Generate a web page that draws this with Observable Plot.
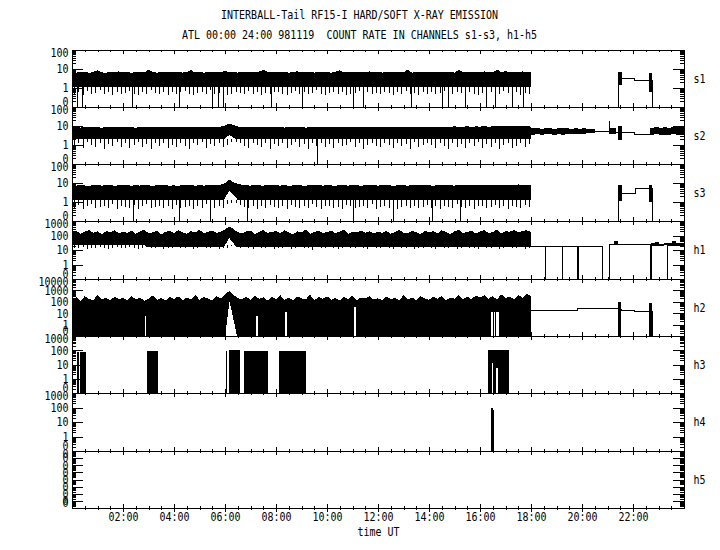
<!DOCTYPE html>
<html><head><meta charset="utf-8">
<script src="https://cdn.jsdelivr.net/npm/d3@7"></script>
<script src="https://cdn.jsdelivr.net/npm/@observablehq/plot@0.6"></script>
<style>
body{margin:0;background:#fff;}
#chart{position:relative;width:720px;height:550px;background:#fff;font-family:"DejaVu Sans Mono",monospace;overflow:hidden;}
.ttl{position:absolute;left:0;width:719px;text-align:center;font-size:10px;line-height:12px;color:#000;transform:scaleY(1.2);white-space:pre;}
.panel{position:absolute;left:0;}
</style></head><body><div id="chart"></div>
<script>
// ---------------- data ----------------
const TITLE = "INTERBALL-Tail RF15-I HARD/SOFT X-RAY EMISSION";
const SUBTITLE = "ATL 00:00 24:00 981119  COUNT RATE IN CHANNELS s1-s3, h1-h5";
const X_LABEL = "time UT";
const channels = ["s1","s2","s3","h1","h2","h3","h4","h5"];
const yMin = [0.1,0.1,0.1,0.1,0.1,0.1,0.1,1e-8];
const yMax = [100,100,100,1000,10000,1000,1000,1];
const sTickLabels = ["0","1","10","100"];
const h1TickLabels = ["0","1","10","100","1000"];
const h2TickLabels = ["0","1","10","100","1000","10000"];
const h3TickLabels = ["0","1","10","100","1000"];
const h4TickLabels = ["0","1","10","100","1000"];
const h5TickLabels = ["0","0","0","0","0","0","0","0","0"];
const xTickHours = [2,4,6,8,10,12,14,16,18,20,22];
const xTickLabels = ["02:00","04:00","06:00","08:00","10:00","12:00","14:00","16:00","18:00","20:00","22:00"];
const STEP = 1/6; // 10-minute samples, 00:00 .. 18:00

// s1
const s1_hi = [7.2,6.5,6.8,7.4,6.3,6.9,8.8,6.6,6.4,7.1,6.8,7.5,
 6.6,7.0,6.3,7.3,6.9,6.5,9.2,6.8,6.4,7.2,6.7,7.0,
 6.9,7.4,6.5,6.8,8.6,6.6,7.1,6.4,6.9,7.3,6.7,7.0,
 7.6,7.2,6.8,6.5,7.0,7.4,6.6,6.9,7.2,9.0,7.1,6.8,
 6.7,7.3,6.9,6.4,7.0,7.5,6.6,6.8,7.2,6.5,6.9,7.4,
 6.8,6.4,7.1,8.7,6.7,6.9,7.3,6.5,7.0,6.8,7.4,6.6,
 7.0,6.5,6.9,7.3,6.6,7.1,6.8,9.1,6.4,6.9,7.2,6.7,
 6.9,7.4,6.6,7.0,6.8,7.2,6.5,8.9,6.9,6.7,7.1,7.3,
 6.8,7.5,7.0,6.6,9.3,6.9,7.7,6.7,7.2,6.8,7.4,7.0,7.1];
const s1_lo_t = [0,18];
const s1_lo_v = [1.15,1.15];
const s1_base = 1.15;
const s1_min = [0.5,0.6,0.45,0.7,0.5,0.55,0.8,0.5,0.6,0.45,0.65,0.5,
 0.55,0.7,0.5,0.45,0.6,0.5,0.75,0.55,0.5,0.65,0.45,0.6,
 0.5,0.6,0.7,0.5,0.45,0.55,0.6,0.5,0.8,0.5,0.55,0.6,
 0.45,0.5,0.65,0.55,0.5,0.7,0.5,0.6,0.45,0.55,0.5,0.65,
 0.6,0.5,0.45,0.55,0.7,0.5,0.6,0.5,0.55,0.75,0.5,0.45,
 0.55,0.6,0.5,0.65,0.45,0.5,0.55,0.7,0.5,0.6,0.5,0.55,
 0.5,0.65,0.55,0.45,0.6,0.5,0.7,0.5,0.55,0.45,0.6,0.5,
 0.6,0.5,0.55,0.7,0.45,0.5,0.6,0.55,0.5,0.65,0.5,0.45,
 0.55,0.5,0.6,0.45,0.5,0.7,0.55,0.5,0.6,0.45,0.55,0.5];
const s1_zero = [0.18,0.38,2.34,4.2,5.48,5.73,5.91,7.8,9.0,11.0,11.4,13.3,14.5,14.75,15.4,16.24,16.59,17.24,17.7];
const s1_tail_t = [18.0,21.4,22.04,22.73,24];
const s1_tail_v = [0,3.5,2.6,0,0];
const s1_bursts = [[21.4,21.57,1.4,7.0],[22.64,22.73,0.6,6.1]];

// s2
const s2_hi = [8.6,9.0,8.2,8.8,9.3,8.4,8.9,8.1,8.7,9.2,8.5,8.8,
 8.3,9.1,8.6,8.2,8.9,9.4,8.5,8.7,8.3,9.0,8.6,8.4,
 8.9,8.5,9.2,8.6,8.3,8.8,9.1,8.4,8.7,9.0,8.5,9.3,
 10.5,13.5,11.5,9.5,8.8,9.2,8.6,8.9,8.4,9.1,8.7,8.5,
 9.0,8.6,8.3,8.9,9.3,8.5,8.8,8.2,8.7,9.1,8.4,8.9,
 8.6,9.2,8.5,8.8,8.3,9.0,8.7,8.4,9.3,8.6,8.9,8.5,
 8.8,8.4,9.1,8.6,8.9,8.3,9.0,8.7,8.5,9.2,8.6,8.8,
 8.5,9.0,8.7,9.4,8.6,8.9,9.6,8.8,9.2,9.8,9.0,9.5,
 9.3,9.9,9.1,9.6,10.2,9.4,9.8,10.5,9.5,10.0,9.6,10.3,9.0];
const s2_lo_t = [0,5.95,6.17,6.45,18];
const s2_lo_v = [2.0,2.0,3.3,2.0,2.0];
const s2_base = 2.0;
const s2_min = [0.9,1.2,0.7,1.4,1.0,0.8,1.3,0.6,1.1,0.9,1.5,0.8,
 1.2,0.7,1.0,1.4,0.8,1.1,0.6,1.3,0.9,1.2,0.7,1.0,
 0.8,1.3,0.9,0.6,1.2,1.0,1.4,0.7,1.1,0.9,1.3,0.8,
 1.0,1.4,1.5,1.2,0.9,0.7,1.2,1.0,0.8,1.3,0.6,1.1,
 0.9,1.2,0.7,1.0,1.4,0.8,1.1,0.6,1.3,0.9,1.2,0.8,
 1.1,0.7,1.3,0.9,1.0,1.4,0.8,1.2,0.6,1.0,1.3,0.9,
 0.8,1.2,1.0,0.7,1.3,0.9,1.1,0.6,1.4,0.8,1.0,1.2,
 1.0,0.7,1.2,0.9,0.6,1.3,0.8,1.1,0.7,1.2,0.9,1.4,
 0.7,1.1,0.8,1.3,0.6,1.0,1.2,0.7,0.9,1.3,0.8,1.1];
const s2_zero = [9.6];
const s2_late1_start = 18.0;
const s2_late1_hi = [7.5,7.8,7.2,7.6,7.9,7.3,7.7,7.4,7.8,7.2,7.5,7.1,7.4,6.9,6.6];
const s2_late1_lo = [3.5,3.8,3.3,3.6,3.9,3.4,3.7,3.5,3.8,3.6,3.9,3.7,4.0,4.2,4.5];
const s2_late2_start = 22.67;
const s2_late2_hi = [8.0,8.4,7.9,8.6,8.2,8.8,8.5,9.2];
const s2_late2_lo = [3.3,3.6,3.2,3.5,3.4,3.7,3.5,3.8];
const s2_tail_t = [20.33,21.06,21.07,21.57,22.04,22.67];
const s2_tail_v = [5.5,18,5.0,4.9,4.0,4.0];
const s2_bursts = [[21.07,21.35,3.6,7.4],[21.4,21.57,1.8,9.5]];

// s3
const s3_hi = [7.6,7.2,7.9,7.4,7.0,7.7,8.0,7.3,7.5,7.8,7.1,7.6,
 7.4,7.9,7.2,7.6,7.3,8.1,7.5,7.0,7.7,7.4,7.8,7.2,
 7.5,7.1,7.8,7.4,7.9,7.2,7.6,7.3,7.7,8.0,7.4,8.2,
 10.0,15.5,11.0,9.0,8.0,7.6,7.3,7.8,7.5,7.2,7.9,7.4,
 7.6,7.3,7.8,7.1,7.5,7.9,7.4,7.2,7.7,7.5,8.0,7.3,
 7.7,7.4,7.2,7.8,7.5,7.3,7.9,7.6,7.1,7.7,7.4,7.8,
 7.3,7.6,7.9,7.4,7.2,7.8,7.5,7.3,7.7,7.4,8.0,7.6,
 7.5,7.2,7.8,7.4,7.9,7.6,7.3,7.7,8.1,7.5,7.8,7.4,
 7.9,7.5,8.2,7.6,7.8,8.3,7.7,8.0,7.6,8.4,7.8,8.1,7.9];
const s3_lo_t = [0,5.95,6.17,6.5,18];
const s3_lo_v = [1.3,1.3,4.0,1.3,1.3];
const s3_base = 1.3;
const s3_min = [0.5,0.7,0.45,0.6,0.8,0.5,0.55,0.65,0.5,0.75,0.45,0.6,
 0.55,0.5,0.7,0.45,0.6,0.8,0.5,0.55,0.65,0.5,0.6,0.45,
 0.7,0.5,0.55,0.6,0.45,0.65,0.5,0.75,0.55,0.5,0.6,0.5,
 0.8,0.9,0.9,0.7,0.55,0.5,0.65,0.45,0.6,0.5,0.7,0.55,
 0.5,0.6,0.45,0.7,0.55,0.5,0.65,0.5,0.8,0.55,0.45,0.6,
 0.65,0.5,0.55,0.45,0.7,0.6,0.5,0.55,0.65,0.5,0.75,0.45,
 0.55,0.6,0.5,0.7,0.45,0.55,0.6,0.5,0.65,0.5,0.55,0.7,
 0.5,0.65,0.45,0.6,0.55,0.5,0.75,0.55,0.5,0.6,0.45,0.65,
 0.6,0.5,0.55,0.7,0.5,0.65,0.45,0.6,0.55,0.5,0.7,0.55];
const s3_zero = [2.4,4.2,5.41,6.85,11.03,12.6,14.1,15.2];
const s3_tail_t = [18.0,21.4,22.06,22.73,24];
const s3_tail_v = [0,2.9,5.3,0,0];
const s3_bursts = [[21.4,21.57,1.1,7.7],[22.64,22.73,1.0,8.0]];

// h1
const h1_hi = [160,210,130,180,240,150,190,120,200,170,230,140,
 180,150,220,130,190,260,140,170,210,120,180,200,
 150,230,170,130,200,160,250,140,180,210,150,190,
 260,420,280,170,140,190,220,130,170,240,150,180,
 200,140,230,160,120,190,170,250,130,180,210,150,
 170,220,140,190,260,130,180,160,230,150,200,140,
 190,150,210,130,180,240,160,140,200,170,120,220,
 160,200,140,230,170,130,190,250,150,180,210,140,
 190,230,150,170,260,140,200,180,240,160,210,230,170];
const h1_lo_t = [0,2.85,2.9,5.95,6.17,6.45,18];
const h1_lo_v = [22,22,16,16,65,16,16];
const h1_base = 22;
const h1_min = [14,13,15,12,14,13,15,14,12,13,15,14,
 13,15,14,12,14,15,13,14,15,12,14,13,
 15,14,13,15,12,14,15,13,14,15,12,14,
 14,20,22,13,15,14,12,15,13,14,15,12,
 14,13,15,12,14,15,13,14,10,15,14,13,
 15,14,12,13,15,14,13,15,14,12,15,14,
 13,15,14,12,15,13,14,15,12,14,13,15,
 14,12,15,13,14,15,12,14,15,13,14,12,
 15,14,13,15,12,14,15,13,14,15,12,14];
const h1_tail_t = [18.0,18.55,18.56,19.2,19.21,19.82,19.83,20.77,21.07,21.6,22.68,22.7];
const h1_tail_v = [19,0,18,0,18.5,0,19,0,24,25.6,0,25];
const h1_late1_start = 21.07;
const h1_late1_hi = [27,40,26];
const h1_late1_lo = [21,22,21];
const h1_late2_start = 22.7;
const h1_late2_hi = [30,34,28,32,29,42,31,30];
const h1_late2_lo = [19,20,18,21,19,20,18,19];
const h1_late_zero = [23.35];

// h2
const h2_hi = [150,260,120,310,180,140,400,160,230,130,280,170,
 210,140,330,160,250,120,190,360,150,220,130,270,
 180,300,140,230,170,410,150,260,190,130,320,200,
 450,850,380,220,160,290,140,350,180,250,130,300,
 170,380,150,240,130,290,200,160,430,140,260,180,
 310,150,220,130,270,180,350,140,240,190,300,160,
 200,140,290,170,230,130,380,160,250,140,320,190,
 150,270,180,340,140,230,190,420,160,280,170,360,
 240,380,190,310,160,450,220,290,170,400,230,520,300];
const h2_lo_t = [6.0,6.18,6.47];
const h2_lo_v = [0,110,0];
const h2_gaps = [[2.86,5.3],[7.24,5.3],[8.37,12],[11.07,35],[16.46,12],[16.55,12],[16.64,12],[16.7,12]];
const h2_tail_t = [18.0,19.79,21.52,22.04,22.75,24];
const h2_tail_v = [20,26,20,14.5,0,0];
const h2_bars = [[21.42,21.52,100],[22.64,22.75,76]];

// h3
const h3_blocks = [[0.21,0.27,75],[0.31,0.55,78],[2.93,3.36,90],[6.02,6.09,95],[6.15,6.6,100],
 [6.75,7.67,95],[8.13,9.16,95],[9.91,9.94,110],[16.33,17.12,110]];
const h3_gaps = [[16.48,12],[16.65,5.3]];

// h4
const h4_bars = [[16.43,16.5,95],[16.5,16.56,65]];

// ---------------- layout ----------------
const EDGES = [50,107,164,221,279,336,393,451,508];
const FONT = "DejaVu Sans Mono";
const chart = document.getElementById("chart");
function addTitle(text, top) {
  const d = document.createElement("div"); d.className = "ttl"; d.style.top = top + "px"; d.textContent = text; chart.appendChild(d);
}
addTitle(TITLE, 9);
addTitle(SUBTITLE, 29);

function majorTicks(F, T) { const o = []; for (let e = Math.round(Math.log10(F)); e <= Math.round(Math.log10(T)); e++) o.push(Math.pow(10, e)); return o; }
function minorTicks(F, T) { const o = []; for (let e = Math.round(Math.log10(F)); e < Math.round(Math.log10(T)); e++) for (let k = 2; k <= 9; k++) o.push(k * Math.pow(10, e)); return o; }
const xMinor = []; for (let h = 0.5; h < 24; h += 0.5) if (h % 2 !== 0) xMinor.push(h);

function band(F, hi, loT, loV, base, mins, zeros) {
  return [
    Plot.areaY(hi, {x: (d, i) => i * STEP, y1: () => F, y2: d => Math.max(d, F), fill: "black", curve: "linear"}),
    Plot.areaY(loT, {x: d => d, y1: () => F, y2: (d, i) => Math.max(loV[i], F), fill: "white", curve: "linear"}),
    Plot.ruleX(mins, {x: (d, i) => i * STEP + STEP / 2, y1: d => d, y2: () => base, stroke: "black"}),
    Plot.ruleX(zeros, {x: d => d, y1: () => F, y2: () => base, stroke: "black"})
  ];
}
function lateBand(F, start, hi, lo) {
  return Plot.rect(hi, {x1: (d, i) => start + i * STEP, x2: (d, i) => start + (i + 1) * STEP, y1: (d, i) => Math.max(lo[i], F), y2: d => d, fill: "black"});
}
function stepLine(F, ts, vs) {
  return Plot.line(ts, {x: d => d, y: (d, i) => Math.max(vs[i], F), curve: "step-after", stroke: "black", strokeWidth: 1});
}
function bursts(F, list) {
  return Plot.rect(list, {x1: d => d[0], x2: d => d[1], y1: d => Math.max(d[2], F), y2: d => d[3], fill: "black"});
}
function bars(F, list) {
  return Plot.rect(list, {x1: d => d[0], x2: d => d[1], y1: () => F, y2: d => d[2], fill: "black"});
}
function whiteGaps(F, list) {
  return Plot.ruleX(list, {x: d => d[0], y1: () => F, y2: d => d[1], stroke: "white", strokeWidth: 1.5});
}

function makePanel(k, tickLabels, dataMarks) {
  const top = EDGES[k], h = EDGES[k + 1] - top;
  const mt = 14, mb = k === 7 ? 42 : 14;
  const F = yMin[k], T = yMax[k];
  const W = 612;
  const majors = majorTicks(F, T), minors = minorTicks(F, T);
  const lab = d => tickLabels[majors.indexOf(d)];
  const marks = [
    ...dataMarks,
    Plot.ruleY(majors, {y: d => d, insetRight: W - 11, stroke: "black"}),
    Plot.ruleY(majors, {y: d => d, insetLeft: W - 11, stroke: "black"}),
    Plot.ruleY(minors, {y: d => d, insetRight: W - 4, stroke: "black"}),
    Plot.ruleY(minors, {y: d => d, insetLeft: W - 4, stroke: "black"}),
    Plot.ruleX(xTickHours, {x: d => d, insetBottom: h - 4, stroke: "black"}),
    Plot.ruleX(xTickHours, {x: d => d, insetTop: h - 4, stroke: "black"}),
    Plot.ruleX(xMinor, {x: d => d, insetBottom: h - 2, stroke: "black"}),
    Plot.ruleX(xMinor, {x: d => d, insetTop: h - 2, stroke: "black"}),
    Plot.frame({stroke: "black"}),
    Plot.text([majors[majors.length - 1]], {y: d => d, text: lab, frameAnchor: "left", textAnchor: "end", dx: -4, dy: 3, fontSize: 10}),
    Plot.text(majors.slice(1, -1), {y: d => d, text: lab, frameAnchor: "left", textAnchor: "end", dx: -4, fontSize: 10}),
    Plot.text([majors[0]], {y: d => d, text: lab, frameAnchor: "left", textAnchor: "end", dx: -4, dy: -5, fontSize: 10}),
    Plot.text([channels[k]], {text: d => d, frameAnchor: "right", textAnchor: "start", dx: 9, fontSize: 10})
  ];
  if (k === 7) {
    marks.push(
      Plot.ruleX(xTickHours, {x: d => d, insetTop: h - 3, insetBottom: -3.5, stroke: "black"}),
      Plot.ruleX(xMinor, {x: d => d, insetTop: h - 2, insetBottom: -2, stroke: "black"}),
      Plot.text(xTickHours, {x: d => d, text: (d, i) => xTickLabels[i], frameAnchor: "bottom", dy: 12, fontSize: 10}),
      Plot.text([X_LABEL], {x: () => 12, text: d => d, frameAnchor: "bottom", dy: 27, fontSize: 10})
    );
  }
  const svg = Plot.plot({
    width: 720, height: h + mt + mb,
    marginLeft: 72, marginRight: 36, marginTop: mt, marginBottom: mb,
    x: {type: "linear", domain: [0, 24], axis: null},
    y: {type: "log", domain: [F, T], axis: null},
    style: {background: "transparent", overflow: "visible", fontFamily: FONT, fontSize: "10px", color: "black"},
    marks
  });
  svg.style.shapeRendering = "crispEdges";
  svg.querySelectorAll("text").forEach(t => {
    const tr = t.getAttribute("transform");
    if (tr) t.setAttribute("transform", tr + " scale(1,1.2)");
  });
  const d = document.createElement("div");
  d.className = "panel"; d.style.top = (top - mt) + "px";
  d.appendChild(svg); chart.appendChild(d);
}

// s1
{ const F = yMin[0];
  makePanel(0, sTickLabels, [
    ...band(F, s1_hi, s1_lo_t, s1_lo_v, s1_base, s1_min, s1_zero),
    stepLine(F, s1_tail_t, s1_tail_v), bursts(F, s1_bursts)
  ]); }
// s2
{ const F = yMin[1];
  makePanel(1, sTickLabels, [
    ...band(F, s2_hi, s2_lo_t, s2_lo_v, s2_base, s2_min, s2_zero),
    lateBand(F, s2_late1_start, s2_late1_hi, s2_late1_lo),
    lateBand(F, s2_late2_start, s2_late2_hi, s2_late2_lo),
    stepLine(F, s2_tail_t, s2_tail_v), bursts(F, s2_bursts)
  ]); }
// s3
{ const F = yMin[2];
  makePanel(2, sTickLabels, [
    ...band(F, s3_hi, s3_lo_t, s3_lo_v, s3_base, s3_min, s3_zero),
    stepLine(F, s3_tail_t, s3_tail_v), bursts(F, s3_bursts)
  ]); }
// h1
{ const F = yMin[3];
  makePanel(3, h1TickLabels, [
    ...band(F, h1_hi, h1_lo_t, h1_lo_v, h1_base, h1_min, []),
    stepLine(F, h1_tail_t, h1_tail_v),
    lateBand(F, h1_late1_start, h1_late1_hi, h1_late1_lo),
    lateBand(F, h1_late2_start, h1_late2_hi, h1_late2_lo),
    Plot.ruleX(h1_late_zero, {x: d => d, y1: () => F, y2: () => 22, stroke: "black"})
  ]); }
// h2
{ const F = yMin[4];
  makePanel(4, h2TickLabels, [
    Plot.areaY(h2_hi, {x: (d, i) => i * STEP, y1: () => F, y2: d => d, fill: "black", curve: "linear"}),
    Plot.areaY(h2_lo_t, {x: d => d, y1: () => F, y2: (d, i) => Math.max(h2_lo_v[i], F), fill: "white"}),
    whiteGaps(F, h2_gaps),
    stepLine(F, h2_tail_t, h2_tail_v), bars(F, h2_bars)
  ]); }
// h3
{ const F = yMin[5];
  makePanel(5, h3TickLabels, [bars(F, h3_blocks), whiteGaps(F, h3_gaps)]); }
// h4
{ const F = yMin[6];
  makePanel(6, h4TickLabels, [bars(F, h4_bars)]); }
// h5
makePanel(7, h5TickLabels, []);
</script></body></html>
